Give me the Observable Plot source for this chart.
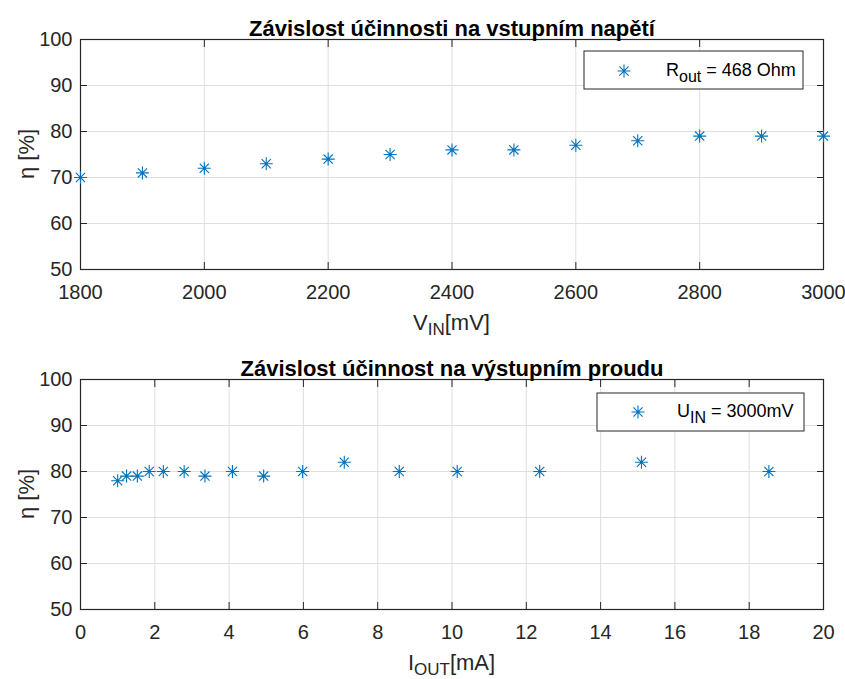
<!DOCTYPE html>
<html>
<head>
<meta charset="utf-8">
<script src="https://cdn.jsdelivr.net/npm/d3@7"></script>
<script src="https://cdn.jsdelivr.net/npm/@observablehq/plot@0.6"></script>
<style>
  html, body { margin: 0; padding: 0; background: white; }
  #chart svg { display: block; }
</style>
</head>
<body>
<div id="chart"></div>
<script>
// ---- Data ----
const vinTitle = "Závislost účinnosti na vstupním napětí";
const vin = [1800, 1900, 2000, 2100, 2200, 2300, 2400, 2500, 2600, 2700, 2800, 2900, 3000];
const etaVin = [70, 71, 72, 73, 74, 75, 76, 76, 77, 78, 79, 79, 79];
const vinTicks = [1800, 2000, 2200, 2400, 2600, 2800, 3000];

const ioutTitle = "Závislost účinnost na výstupním proudu";
const iout = [1.00, 1.24, 1.53, 1.85, 2.23, 2.79, 3.35, 4.09, 4.93, 5.98, 7.10, 8.58, 10.14, 12.36, 15.10, 18.53];
const etaIout = [78, 79, 79, 80, 80, 80, 79, 80, 79, 80, 82, 80, 80, 80, 82, 80];
const ioutTicks = [0, 2, 4, 6, 8, 10, 12, 14, 16, 18, 20];

const etaTicks = [50, 60, 70, 80, 90, 100];

// ---- Styling ----
const BLUE = "#0072BD";
const INK = "#262626";
const GRID = "#dfdfdf";
const FONT = "'Liberation Sans', Arial, Helvetica, sans-serif";

// MATLAB-like 8-armed asterisk
const star8 = {
  draw(ctx, size) {
    const r = Math.sqrt(size / Math.PI);
    const d = r * Math.SQRT1_2;
    ctx.moveTo(-r, 0); ctx.lineTo(r, 0);
    ctx.moveTo(0, -r); ctx.lineTo(0, r);
    ctx.moveTo(-d, -d); ctx.lineTo(d, d);
    ctx.moveTo(-d, d); ctx.lineTo(d, -d);
  }
};

function panel({title, xs, ys, xDomain, xTicks, height, xLabelMain, xLabelSub, xLabelTail, legMain, legSub, legTail, legBox}) {
  const data = xs.map((x, i) => ({x, y: ys[i]}));
  const svg = Plot.plot({
    width: 845,
    height,
    marginLeft: 80,
    marginRight: 22,
    marginTop: 39,
    marginBottom: height - 269,
    style: {fontFamily: FONT, fontSize: "20px", color: INK, background: "white", overflow: "visible"},
    x: {domain: xDomain},
    y: {domain: [50, 100]},
    marks: [
      Plot.gridX(xTicks, {stroke: GRID, strokeOpacity: 1}),
      Plot.gridY(etaTicks, {stroke: GRID, strokeOpacity: 1}),
      Plot.axisX(xTicks, {anchor: "bottom", tickSize: -7, fill: "none", stroke: INK, label: null}),
      Plot.axisX(xTicks, {anchor: "top", tickSize: -7, fill: "none", stroke: INK, label: null}),
      Plot.axisY(etaTicks, {anchor: "left", tickSize: -7, fill: "none", stroke: INK, label: null}),
      Plot.axisY(etaTicks, {anchor: "right", tickSize: -7, fill: "none", stroke: INK, label: null}),
      Plot.axisX(xTicks, {anchor: "bottom", tickSize: 0, tickPadding: 15, fill: INK, label: null, fontSize: 20, tickFormat: d => String(d)}),
      Plot.axisY(etaTicks, {anchor: "left", tickSize: 0, tickPadding: 8, fill: INK, label: null, fontSize: 20, tickFormat: d => String(d)}),
      Plot.frame({stroke: INK, strokeWidth: 1.2}),
      Plot.dot(data, {x: "x", y: "y", r: 6.5, symbol: star8, stroke: BLUE, strokeWidth: 1.1, fill: "none"}),
      Plot.text([title], {frameAnchor: "top", dy: -19, fontWeight: "bold", fontSize: 22, fill: "black"})
    ]
  });

  const s = d3.select(svg);
  const cx = (80 + 823) / 2;
  // x label with subscript
  const xl = s.append("text")
    .attr("x", cx).attr("y", 330)
    .attr("text-anchor", "middle")
    .attr("fill", INK)
    .style("font-family", FONT).style("font-size", "22px");
  xl.append("tspan").text(xLabelMain);
  xl.append("tspan").attr("dy", 5).style("font-size", "17px").text(xLabelSub);
  xl.append("tspan").attr("dy", -5).text(xLabelTail);

  // y label
  s.append("text")
    .attr("transform", `translate(34,${(39 + 269) / 2}) rotate(-90)`)
    .attr("text-anchor", "middle")
    .attr("fill", INK)
    .style("font-family", FONT).style("font-size", "22px")
    .text("η [%]");

  // legend box
  const g = s.append("g");
  g.append("rect")
    .attr("x", legBox.x0).attr("y", legBox.y0)
    .attr("width", legBox.x1 - legBox.x0).attr("height", legBox.y1 - legBox.y0)
    .attr("fill", "white").attr("stroke", INK).attr("stroke-width", 1);
  const p = d3.path();
  star8.draw(p, Math.PI * 6.5 * 6.5);
  g.append("path")
    .attr("d", p.toString())
    .attr("transform", `translate(${legBox.mx},${legBox.my})`)
    .attr("fill", "none").attr("stroke", BLUE).attr("stroke-width", 1.1);
  const lt = g.append("text")
    .attr("x", legBox.tx).attr("y", legBox.my + 5)
    .attr("text-anchor", "start")
    .attr("fill", "black")
    .style("font-family", FONT).style("font-size", "18px");
  lt.append("tspan").text(legMain);
  lt.append("tspan").attr("dy", 6).style("font-size", "16px").text(legSub);
  lt.append("tspan").attr("dy", -6).text(legTail);
  return svg;
}

const root = document.getElementById("chart");
root.appendChild(panel({
  title: vinTitle, xs: vin, ys: etaVin, xDomain: [1800, 3000], xTicks: vinTicks, height: 340,
  xLabelMain: "V", xLabelSub: "IN", xLabelTail: "[mV]",
  legMain: "R", legSub: "out", legTail: " = 468 Ohm",
  legBox: {x0: 584, y0: 51, x1: 803, y1: 89, mx: 624, my: 71, tx: 666}
}));
root.appendChild(panel({
  title: ioutTitle, xs: iout, ys: etaIout, xDomain: [0, 20], xTicks: ioutTicks, height: 339,
  xLabelMain: "I", xLabelSub: "OUT", xLabelTail: "[mA]",
  legMain: "U", legSub: "IN", legTail: " = 3000mV",
  legBox: {x0: 597, y0: 53, x1: 804, y1: 91, mx: 638, my: 72, tx: 677}
}));
</script>
</body>
</html>
